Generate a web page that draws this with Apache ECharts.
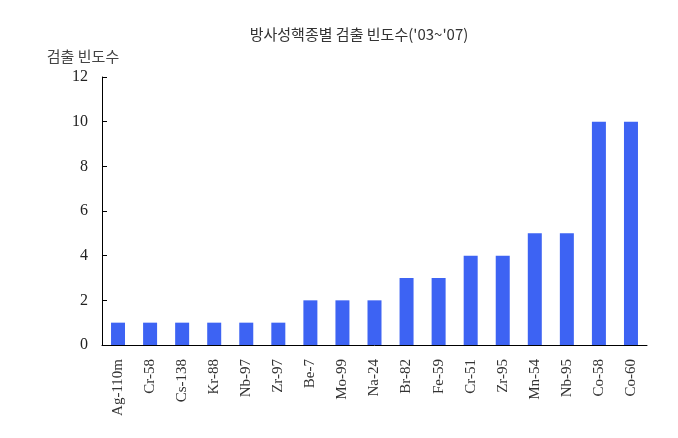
<!DOCTYPE html>
<html><head><meta charset="utf-8">
<script src="https://cdn.jsdelivr.net/npm/echarts@6/dist/echarts.min.js"></script>
<style>html,body{margin:0;padding:0;background:#fff}#c{width:678px;height:438px}</style>
</head><body><div id="c"></div>
<script>
var categories = ["Ag-110m","Cr-58","Cs-138","Kr-88","Nb-97","Zr-97","Be-7","Mo-99","Na-24","Br-82","Fe-59","Cr-51","Zr-95","Mn-54","Nb-95","Co-58","Co-60"];
var values = [1,1,1,1,1,1,2,2,2,3,3,4,4,5,5,10,10];
var yTicks = [0,2,4,6,8,10,12];
var chart = echarts.init(document.getElementById('c'));
chart.setOption({
  animation:false,
  backgroundColor:'#fff',
  title:{text:'방사성핵종별 검출 빈도수(\'03~\'07)',left:354,top:22,textAlign:'center',
    textStyle:{fontFamily:'Noto Sans CJK KR',fontWeight:'normal',fontSize:15,color:'#333'}},
  grid:{left:102,right:31,top:77,bottom:93},
  xAxis:{type:'category',data:categories,
    axisLine:{lineStyle:{color:'#000',width:1}},
    axisTick:{inside:true,length:5,lineStyle:{color:'#000'}},
    axisLabel:{rotate:90,interval:0,fontFamily:'Liberation Serif',fontSize:15,color:'#333',margin:14}},
  yAxis:{type:'value',min:yTicks[0],max:yTicks[yTicks.length-1],interval:2,
    name:'검출 빈도수',nameLocation:'end',nameGap:13,
    nameTextStyle:{fontFamily:'Noto Sans CJK KR',fontSize:15,color:'#444',align:'center',padding:[0,0,0,-38]},
    axisLine:{show:true,lineStyle:{color:'#000'}},
    axisTick:{show:true,inside:true,length:5,lineStyle:{color:'#000'}},
    splitLine:{show:false},
    axisLabel:{fontFamily:'Liberation Serif',fontSize:16,color:'#222',margin:14}},
  series:[{type:'bar',data:values,barWidth:14,itemStyle:{color:'#3D63F3'}}]
});
</script></body></html>
